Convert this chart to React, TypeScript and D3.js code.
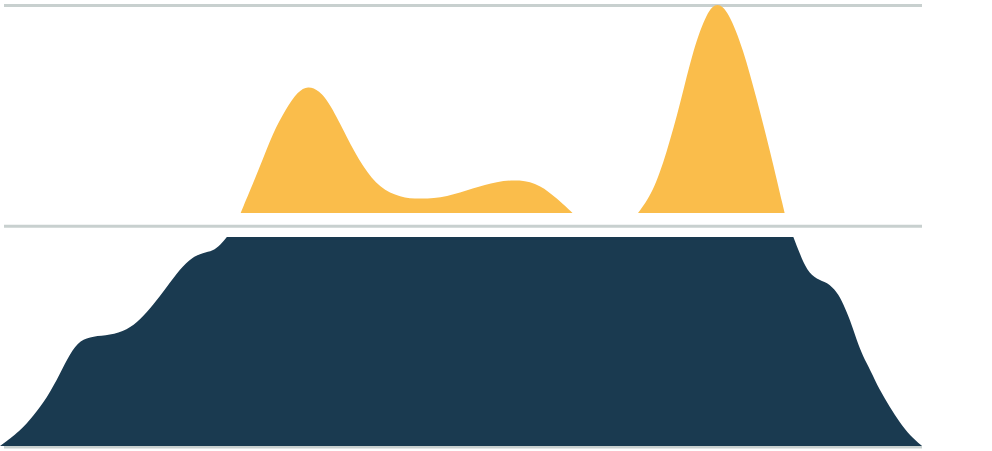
import React from "react";
import * as d3 from "d3";

// x in percent of the plot width, value as share of the row height
const yellowA: [number, number][] = [
  [26.1, 0], [28.2, 0.222], [29.6, 0.385], [31.0, 0.5], [32.3, 0.585], [33.4, 0.612],
  [34.6, 0.59], [35.8, 0.525], [37.6, 0.365], [39.4, 0.218], [41.2, 0.12], [43.4, 0.075],
  [45.6, 0.066], [48.5, 0.077], [51.3, 0.12], [53.9, 0.152], [56.4, 0.162],
  [58.6, 0.135], [60.4, 0.07], [62.1, 0],
];
const yellowB: [number, number][] = [
  [69.2, 0], [70.8, 0.096], [72.3, 0.288], [73.8, 0.529], [75.2, 0.79],
  [76.7, 0.97], [77.8, 1.015], [79.0, 0.97], [80.6, 0.79], [82.1, 0.543],
  [83.5, 0.303], [85.1, 0],
];
const navy: [number, number][] = [
  [0, 0], [2.2, 0.072], [3.6, 0.144], [5.1, 0.231], [6.5, 0.346],
  [7.6, 0.445], [8.7, 0.51], [10.1, 0.528], [11.9, 0.532], [13.8, 0.558],
  [15.2, 0.606], [16.6, 0.678], [18.1, 0.764], [19.5, 0.85], [20.9, 0.91],
  [22.0, 0.928], [23.1, 0.938], [23.9, 0.966], [24.7, 1.01], [25.6, 1.06],
  [28.2, 1.2], [54.2, 1.4], [82.4, 1.2], [85.4, 1.08], [86.0, 1.01],
  [86.8, 0.918], [87.5, 0.846], [88.6, 0.8], [89.7, 0.788], [90.8, 0.74],
  [91.4, 0.69], [92.2, 0.606], [92.9, 0.51], [93.6, 0.43], [94.4, 0.365],
  [95.4, 0.269], [96.5, 0.188], [97.6, 0.111], [98.7, 0.05], [100, 0],
];
const rowCap = 1.005;
const gridRows = [0, 1, 2];

const W = 992;
const H = 451;
const plotW = 922;
const unit = 208;
const baseYellow = 213;
const baseNavy = 446;

export default function App() {
  const x = d3.scaleLinear().domain([0, 100]).range([0, plotW]);
  const yYellow = d3.scaleLinear().domain([0, 1]).range([baseYellow, baseYellow - unit]);
  const yNavy = d3.scaleLinear().domain([0, 1]).range([baseNavy, baseNavy - unit]);
  const grid = d3.scaleLinear().domain([0, 2]).range([5.5, 447]);

  const curve = d3.curveBasis;
  const areaY = d3
    .area<[number, number]>()
    .x((d) => x(d[0]))
    .y0(baseYellow)
    .y1((d) => yYellow(d[1]))
    .curve(curve);
  const areaN = d3
    .area<[number, number]>()
    .x((d) => x(d[0]))
    .y0(baseNavy)
    .y1((d) => yNavy(d[1]))
    .curve(curve);

  const capY = yNavy(rowCap);

  return (
    <svg
      width={W}
      height={H}
      style={{ position: "absolute", left: 0, top: 0, background: "#fff" }}
    >
      <defs>
        <clipPath id="navyClip">
          <rect x={0} y={capY} width={W} height={baseNavy - capY} />
        </clipPath>
      </defs>
      {gridRows.map((r) => (
        <line
          key={r}
          x1={4}
          x2={plotW}
          y1={grid(r)}
          y2={grid(r)}
          stroke="#c8d0cf"
          strokeWidth={3}
        />
      ))}
      <path d={areaY(yellowA) || ""} fill="#fabd4b" />
      <path d={areaY(yellowB) || ""} fill="#fabd4b" />
      <path d={areaN(navy) || ""} fill="#1a3a50" clipPath="url(#navyClip)" />
    </svg>
  );
}
